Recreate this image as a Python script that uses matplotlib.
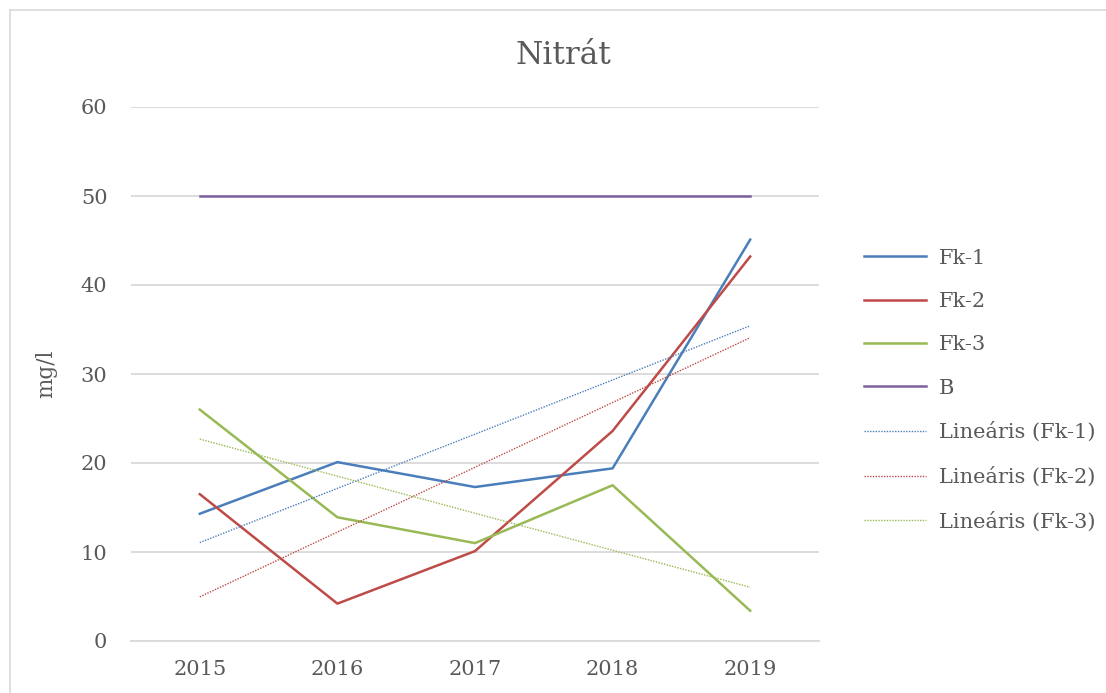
import numpy as np
import matplotlib
matplotlib.use("Agg")
import matplotlib.pyplot as plt
from matplotlib.lines import Line2D

years = [2015, 2016, 2017, 2018, 2019]
fk1 = [14.3, 20.1, 17.3, 19.4, 45.1]
fk2 = [16.5, 4.2, 10.1, 23.6, 43.2]
fk3 = [26.0, 13.9, 11.0, 17.5, 3.4]
b_limit = [50, 50, 50, 50, 50]

series_names = ["Fk-1", "Fk-2", "Fk-3", "B"]
colors = ["#4a7ebb", "#be4b48", "#98b954", "#7d60a0"]
textColor = "#595959"
gridColor = "#d9d9d9"

plt.rcParams['font.family'] = ['DejaVu Serif']

W, H = 1106, 693
fig = plt.figure(figsize=(W/100, H/100), dpi=100)

# chart border (only left and top visible)
fig.add_artist(Line2D([10/W, 10/W], [0, 1-10/H], color=gridColor, lw=1.2, transform=fig.transFigure))
fig.add_artist(Line2D([10/W, 1], [1-10/H, 1-10/H], color=gridColor, lw=1.2, transform=fig.transFigure))

ax = fig.add_axes([131/W, 1-641/H, (819-131)/W, (641-107)/H])

x = np.arange(len(years))
for vals, name, c in zip([fk1, fk2, fk3, b_limit], series_names, colors):
    ax.plot(x, vals, color=c, lw=1.8, label=name)

# linear trend lines
for vals, name, c in zip([fk1, fk2, fk3], series_names[:3], colors[:3]):
    k, m = np.polyfit(x, vals, 1)
    ax.plot(x, k*x+m, color=c, lw=1.0, ls=(0, (1, 1)), label="Lineáris (%s)" % name)

ax.set_xlim(-0.5, len(years)-0.5)
ax.set_ylim(0, 60)
ax.set_yticks(range(0, 61, 10))
ax.set_xticks(x)
ax.set_xticklabels([str(y) for y in years])
ax.yaxis.grid(True, color=gridColor, lw=1.3)
ax.set_axisbelow(True)
for s in ["top", "right", "left"]:
    ax.spines[s].set_visible(False)
ax.spines["bottom"].set_color(gridColor)
ax.spines["bottom"].set_linewidth(1.3)
ax.tick_params(length=0, labelsize=15, colors=textColor, pad=14)
ax.tick_params(axis='y', pad=17)

ax.set_ylabel("mg/l", fontsize=15.5, color=textColor, labelpad=17)
fig.text(563/W, 1-55/H, "Nitrát", fontsize=22.5, color=textColor, ha="center", va="center")

leg = ax.legend(loc="center left", bbox_to_anchor=(845/W, 1-390/H), bbox_transform=fig.transFigure,
                frameon=False, fontsize=15, labelcolor=textColor, handlelength=3.0,
                labelspacing=1.17, handletextpad=0.62)

fig.savefig("out.png", dpi=100, facecolor="white")
